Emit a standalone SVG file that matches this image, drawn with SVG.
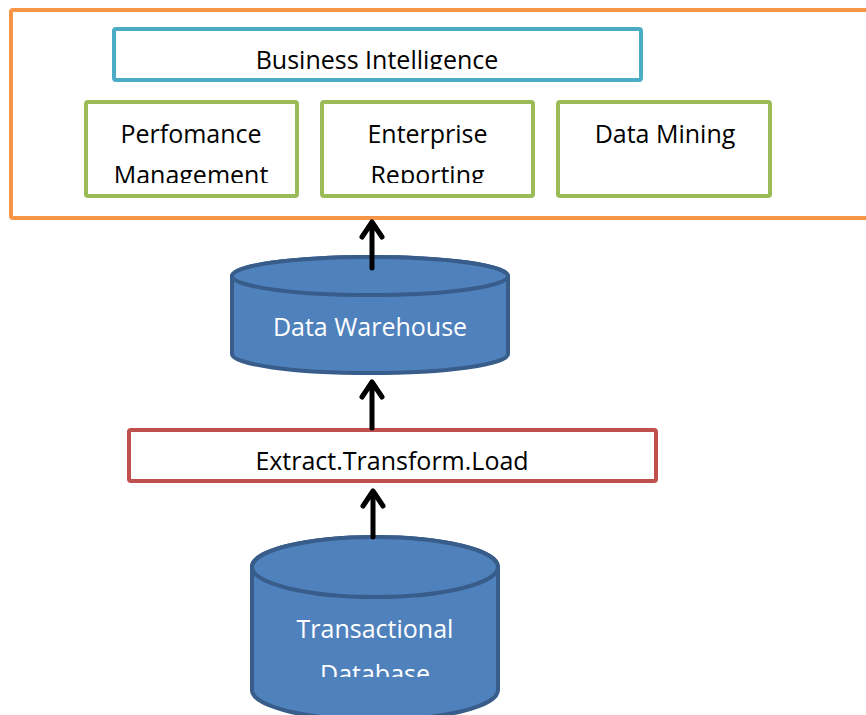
<svg xmlns="http://www.w3.org/2000/svg" width="866" height="715" viewBox="0 0 866 715">
<defs>
<style>
.t{font-family:"Open Sans","Liberation Sans",sans-serif;font-size:25px;fill:#000;text-anchor:middle}
.w{fill:#fff}
.box{fill:#fff;stroke-width:4}
.cyl{fill:#4F81BD;stroke:#385D8A;stroke-width:4}
.arr{fill:none;stroke:#000;stroke-width:5;stroke-linejoin:round;stroke-linecap:round}
</style>
<clipPath id="cBI"><rect x="116" y="31" width="523" height="38.5"/></clipPath>
<clipPath id="cPM"><rect x="88" y="104" width="207" height="79"/></clipPath>
<clipPath id="cER"><rect x="324" y="104" width="207" height="79"/></clipPath>
<clipPath id="cETL"><rect x="130" y="432" width="524" height="38.5"/></clipPath>
<clipPath id="cTD"><rect x="254" y="600" width="242" height="77"/></clipPath>
</defs>
<g id="bi-container">
<rect x="11" y="10" width="880" height="208" rx="2" class="box" stroke="#F79646"/>
</g>
<g id="business-intelligence">
<rect x="114" y="29" width="527" height="51" rx="2" class="box" stroke="#4BACC6"/>
<text class="t" x="377" y="68.5" clip-path="url(#cBI)">Business Intelligence</text>
</g>
<g id="performance-management">
<rect x="86" y="102" width="211" height="94" rx="2" class="box" stroke="#9BBB59"/>
<g clip-path="url(#cPM)">
<text class="t" x="191" y="143">Perfomance</text>
<text class="t" x="191" y="184">Management</text>
</g>
</g>
<g id="enterprise-reporting">
<rect x="322" y="102" width="211" height="94" rx="2" class="box" stroke="#9BBB59"/>
<g clip-path="url(#cER)">
<text class="t" x="427.5" y="143">Enterprise</text>
<text class="t" x="427.5" y="184">Reporting</text>
</g>
</g>
<g id="data-mining">
<rect x="558" y="102" width="212" height="94" rx="2" class="box" stroke="#9BBB59"/>
<text class="t" x="665" y="143">Data Mining</text>
</g>
<g id="data-warehouse">
<path class="cyl" d="M232,276 A138,19 0 0 1 508,276 L508,354 A138,19 0 0 1 232,354 Z"/>
<ellipse class="cyl" cx="370" cy="276" rx="138" ry="19"/>
<text class="t w" x="370" y="336">Data Warehouse</text>
</g>
<g id="etl">
<rect x="129" y="430" width="527" height="51" rx="2" class="box" stroke="#C0504D"/>
<text class="t" x="392" y="470" clip-path="url(#cETL)">Extract.Transform.Load</text>
</g>
<g id="transactional-database">
<path class="cyl" d="M252,567 A123,30 0 0 1 498,567 L498,690 A123,30 0 0 1 252,690 Z"/>
<ellipse class="cyl" cx="375" cy="567" rx="123" ry="30"/>
<g clip-path="url(#cTD)">
<text class="t w" x="375" y="638">Transactional</text>
<text class="t w" x="375" y="683">Database</text>
</g>
</g>
<g id="connectors">
<path class="arr" d="M372,268 L372,223 M362,237 L372,222 L382,237"/>
<path class="arr" d="M372,428 L372,383 M362,397 L372,382 L382,397"/>
<path class="arr" d="M373,537 L373,492 M363,506 L373,491 L383,506"/>
</g>
</svg>
